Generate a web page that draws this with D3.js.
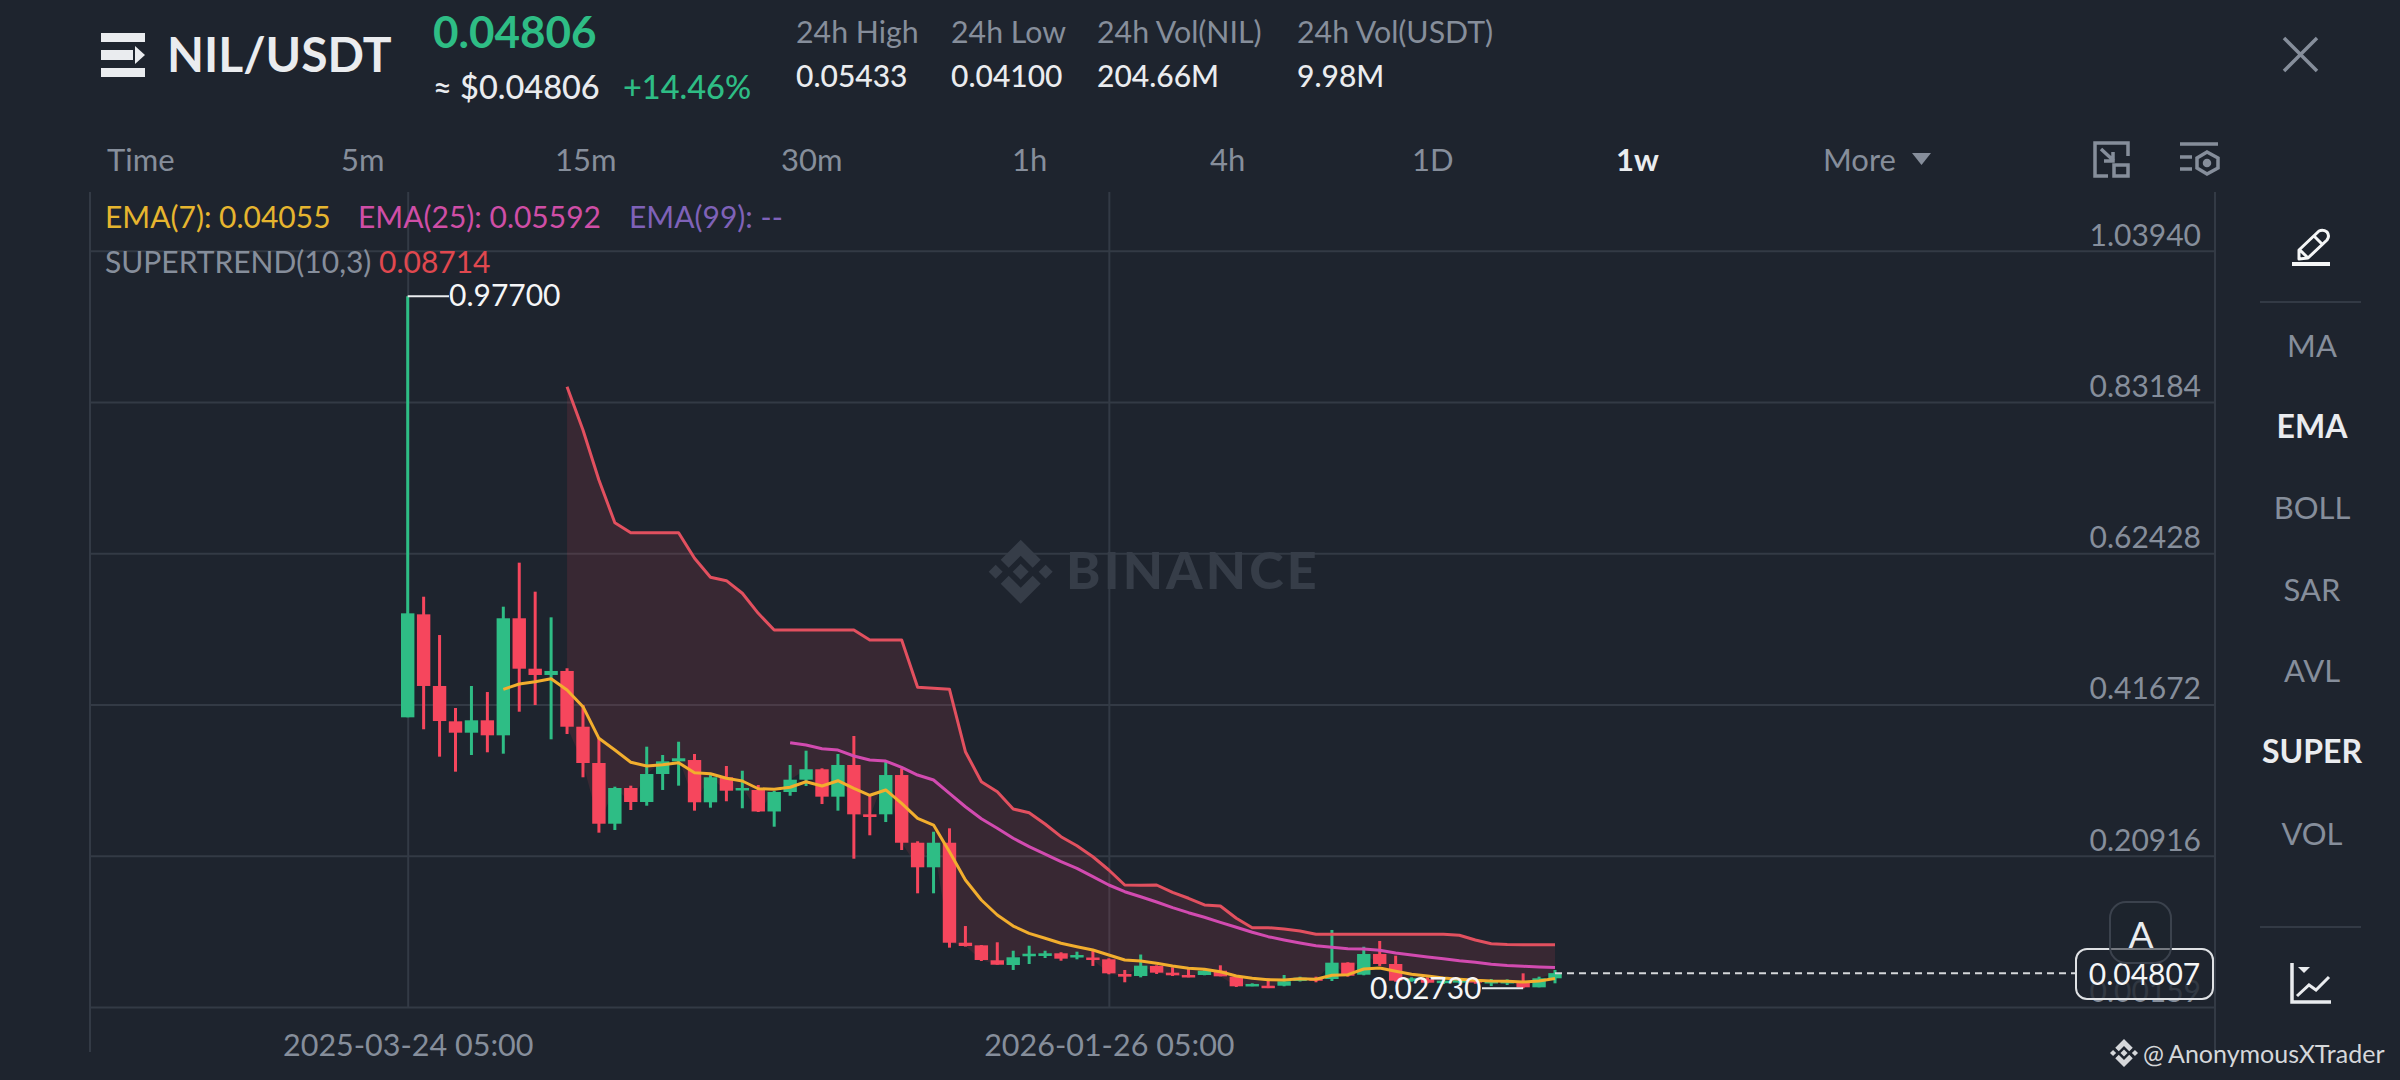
<!DOCTYPE html>
<html>
<head>
<meta charset="utf-8">
<script src="https://cdn.jsdelivr.net/npm/d3@7/dist/d3.min.js"></script>
<style>
  body { margin: 0; background: #1e242e; }
  svg { display: block; font-family: Lato, sans-serif; }
</style>
</head>
<body>
<svg id="chart" width="2400" height="1080"></svg>
<script>
var opens = [0.3991,0.5404,0.4421,0.3936,0.3780,0.3950,0.3744,0.5350,0.4658,0.4572,0.4627,0.3862,0.3364,0.2531,0.3021,0.2829,0.3213,0.3387,0.3405,0.2825,0.3168,0.2990,0.2994,0.2699,0.2966,0.3135,0.3278,0.2902,0.3337,0.2660,0.2660,0.3199,0.2270,0.1933,0.2270,0.0898,0.0862,0.0657,0.0592,0.0712,0.0716,0.0753,0.0698,0.0695,0.0670,0.0469,0.0441,0.0579,0.0487,0.0455,0.0455,0.0514,0.0432,0.0304,0.0308,0.0308,0.0373,0.0410,0.0400,0.0624,0.0459,0.0743,0.0606,0.0373,0.0396,0.0349,0.0365,0.0385,0.0341,0.0341,0.0363,0.0286,0.0410]
var highs = [0.9770,0.5646,0.5120,0.4119,0.4421,0.4338,0.5509,0.6113,0.5715,0.5363,0.4664,0.4160,0.3707,0.3039,0.3053,0.3588,0.3474,0.3656,0.3488,0.3199,0.3323,0.3258,0.3062,0.2980,0.3337,0.3533,0.3291,0.3488,0.3735,0.2925,0.3382,0.3291,0.2290,0.2421,0.2468,0.1127,0.0867,0.0904,0.0788,0.0857,0.0788,0.0767,0.0775,0.0788,0.0684,0.0524,0.0736,0.0588,0.0561,0.0547,0.0547,0.0588,0.0441,0.0341,0.0410,0.0455,0.0432,0.0432,0.1073,0.0630,0.0843,0.0922,0.0720,0.0423,0.0423,0.0410,0.0405,0.0400,0.0400,0.0395,0.0478,0.0432,0.0524]
var lows = [0.3991,0.3827,0.3451,0.3245,0.3474,0.3511,0.3492,0.4068,0.4160,0.3689,0.3762,0.3168,0.2408,0.2445,0.2719,0.2778,0.2994,0.3053,0.2710,0.2751,0.2839,0.2743,0.2692,0.2490,0.2915,0.3048,0.2801,0.2710,0.2051,0.2372,0.2554,0.2170,0.1576,0.1576,0.0830,0.0845,0.0647,0.0596,0.0524,0.0606,0.0688,0.0651,0.0670,0.0579,0.0465,0.0355,0.0423,0.0469,0.0441,0.0423,0.0451,0.0437,0.0290,0.0300,0.0275,0.0300,0.0366,0.0355,0.0373,0.0432,0.0451,0.0579,0.0363,0.0363,0.0341,0.0332,0.0340,0.0335,0.0304,0.0318,0.0273,0.0286,0.0341]
var closes = [0.5418,0.4421,0.3940,0.3780,0.3950,0.3744,0.5350,0.4658,0.4572,0.4627,0.3862,0.3364,0.2531,0.3021,0.2829,0.3213,0.3387,0.3429,0.2825,0.3168,0.2984,0.3021,0.2699,0.2966,0.3135,0.3278,0.2902,0.3337,0.2660,0.2623,0.3199,0.2270,0.1933,0.2270,0.0898,0.0853,0.0661,0.0596,0.0698,0.0747,0.0753,0.0679,0.0729,0.0661,0.0478,0.0432,0.0583,0.0487,0.0451,0.0423,0.0514,0.0437,0.0300,0.0332,0.0277,0.0369,0.0418,0.0382,0.0624,0.0445,0.0743,0.0606,0.0377,0.0410,0.0349,0.0377,0.0385,0.0355,0.0373,0.0373,0.0286,0.0410,0.04807]

var ema7Start = 6
var ema7 = [0.4375,0.4448,0.4480,0.4521,0.4366,0.4137,0.3703,0.3542,0.3374,0.3323,0.3341,0.3368,0.3231,0.3217,0.3154,0.3117,0.3011,0.3005,0.3031,0.3107,0.3048,0.3121,0.3017,0.2921,0.2994,0.2811,0.2605,0.2513,0.2147,0.1759,0.1484,0.1278,0.1127,0.1027,0.0959,0.0890,0.0843,0.0798,0.0729,0.0661,0.0647,0.0616,0.0579,0.0547,0.0533,0.0500,0.0441,0.0410,0.0391,0.0386,0.0404,0.0396,0.0451,0.0459,0.0537,0.0551,0.0506,0.0465,0.0441,0.0414,0.0396,0.0382,0.0373,0.0369,0.0359,0.0373,0.04055]

var ema25Start = 24
var ema25 = [0.3643,0.3611,0.3560,0.3542,0.3460,0.3405,0.3391,0.3305,0.3199,0.3131,0.2948,0.2764,0.2600,0.2468,0.2331,0.2216,0.2115,0.2010,0.1919,0.1804,0.1690,0.1598,0.1529,0.1457,0.1379,0.1310,0.1247,0.1178,0.1110,0.1041,0.0981,0.0935,0.0894,0.0857,0.0835,0.0816,0.0812,0.0794,0.0757,0.0729,0.0702,0.0679,0.0651,0.0629,0.0602,0.0585,0.0575,0.0565,0.05592]

var superStart = 10
var superTrend = [0.8528,0.7934,0.7247,0.6661,0.6524,0.6524,0.6524,0.6524,0.6173,0.5912,0.5866,0.5693,0.5418,0.5189,0.5189,0.5189,0.5189,0.5189,0.5189,0.5052,0.5052,0.5052,0.4403,0.4389,0.4375,0.3519,0.3107,0.2970,0.2733,0.2682,0.2527,0.2353,0.2229,0.2078,0.1896,0.1690,0.1686,0.1690,0.1590,0.1508,0.1416,0.1402,0.1233,0.1104,0.1104,0.1086,0.1059,0.1013,0.1013,0.1013,0.1013,0.1013,0.1013,0.1013,0.1013,0.1013,0.1000,0.0935,0.0885,0.0873,0.08714,0.08714,0.08714]

var yTicks = [1.0394, 0.83184, 0.62428, 0.41672, 0.20916, 0.00159]
var xTicks = [0, 44]
var xTickLabels = ['2025-03-24 05:00', '2026-01-26 05:00']
var timeframes = ['Time', '5m', '15m', '30m', '1h', '4h', '1D', '1w', 'More']
var indicators = ['MA', 'EMA', 'BOLL', 'SAR', 'AVL', 'SUPER', 'VOL']
var activeIndicators = ['EMA', 'SUPER']
var statNames = ['24h High', '24h Low', '24h Vol(NIL)', '24h Vol(USDT)']
var statValues = ['0.05433', '0.04100', '204.66M', '9.98M']
var highLabel = 0.977
var lowLabel = 0.0273
var lastPrice = 0.04807

var green = '#2ebd85', red = '#f6465d', grey = '#868e9b', white = '#eaecef', gridColor = '#333a45'
var bg = '#1e242e'

var svg = d3.select('#chart')

var x = d3.scaleLinear().domain([0, 72]).range([407.7, 1555])
var y = d3.scaleLinear().domain([0.00159, 1.0394]).range([1007, 250.7])

function label(g, txt, px, py, size, fill, weight, anchor) {
    return g.append('text')
        .attr('x', px)
        .attr('y', py)
        .attr('font-size', size)
        .attr('font-weight', weight || 400)
        .attr('fill', fill)
        .attr('text-anchor', anchor || 'start')
        .text(txt)
}

// grid + axes
function axes() {
    var yAxis = d3.axisLeft(y).tickValues(yTicks).tickSize(2125).tickFormat(d3.format('.5f'))
    var gy = svg.append('g').attr('transform', 'translate(2215,0)').call(yAxis)
    gy.select('.domain').remove()
    gy.selectAll('line').attr('stroke', gridColor).attr('stroke-width', 2)
    gy.selectAll('text')
        .attr('x', -14).attr('dy', -5.7)
        .attr('font-family', 'Lato').attr('font-size', 30)
        .attr('fill', grey).attr('text-anchor', 'end')

    var xAxis = d3.axisBottom(x).tickValues(xTicks).tickSize(-815)
        .tickFormat(function (d, i) { return xTickLabels[i] })
    var gx = svg.append('g').attr('transform', 'translate(0,1007)').call(xAxis)
    gx.select('.domain').remove()
    gx.selectAll('line').attr('stroke', gridColor).attr('stroke-width', 2)
    gx.selectAll('text')
        .attr('y', 27)
        .attr('font-family', 'Lato').attr('font-size', 30.5)
        .attr('fill', grey)

    svg.append('line').attr('x1', 90).attr('x2', 90).attr('y1', 192).attr('y2', 1052).attr('stroke', gridColor).attr('stroke-width', 2)
    svg.append('line').attr('x1', 2215).attr('x2', 2215).attr('y1', 192).attr('y2', 1052).attr('stroke', gridColor).attr('stroke-width', 2)
}

function binanceMark(g, cx, cy, s, fill) {
    // the diamond logo, s = half height
    var mk = g.append('g').attr('transform', 'translate(' + cx + ',' + cy + ') scale(' + s / 32 + ')').attr('fill', fill)
    mk.append('path').attr('d', 'M0,-32 L20,-12 L12,-4 L0,-16 L-12,-4 L-20,-12 Z')
    mk.append('path').attr('d', 'M0,32 L20,12 L12,4 L0,16 L-12,4 L-20,12 Z')
    mk.append('path').attr('d', 'M0,-8 L8,0 L0,8 L-8,0 Z')
    mk.append('path').attr('d', 'M-25,-7 L-18,0 L-25,7 L-32,0 Z')
    mk.append('path').attr('d', 'M25,-7 L32,0 L25,7 L18,0 Z')
}

function watermark() {
    binanceMark(svg, 1020.7, 571.7, 32, '#363d48')
    label(svg, 'BINANCE', 1066, 589, 52, '#363d48', 900).attr('letter-spacing', 3.2)
}

function superArea() {
    var idx = d3.range(superStart, closes.length)
    var area = d3.area()
        .x(function (i) { return x(i) })
        .y0(function (i) { return y(closes[i]) })
        .y1(function (i) { return y(superTrend[i - superStart]) })
    svg.append('path').datum(idx).attr('d', area).attr('fill', red).attr('fill-opacity', 0.12)
}

function candles() {
    var idx = d3.range(closes.length)
    var g = svg.append('g')
    g.selectAll('.wick').data(idx).enter().append('line')
        .attr('class', 'wick')
        .attr('x1', function (i) { return x(i) })
        .attr('x2', function (i) { return x(i) })
        .attr('y1', function (i) { return y(highs[i]) })
        .attr('y2', function (i) { return y(lows[i]) })
        .attr('stroke-width', 3)
        .attr('stroke', function (i) { return closes[i] >= opens[i] ? green : red })
    g.selectAll('.body').data(idx).enter().append('rect')
        .attr('class', 'body')
        .attr('x', function (i) { return x(i) - 6.7 })
        .attr('width', 13.4)
        .attr('y', function (i) { return y(Math.max(opens[i], closes[i])) })
        .attr('height', function (i) { return Math.max(2.5, Math.abs(y(opens[i]) - y(closes[i]))) })
        .attr('fill', function (i) { return closes[i] >= opens[i] ? green : red })
}

function lines() {
    function draw(values, start, color) {
        var line = d3.line()
            .x(function (d, i) { return x(i + start) })
            .y(function (d) { return y(d) })
        svg.append('path').datum(values).attr('d', line)
            .attr('fill', 'none').attr('stroke', color).attr('stroke-width', 3).attr('stroke-linejoin', 'round')
    }
    draw(superTrend, superStart, '#e2505f')
    draw(ema25, ema25Start, '#d24bb0')
    draw(ema7, ema7Start, '#f2ae2e')
}

function priceMarks() {
    // highest
    svg.append('line').attr('x1', x(0)).attr('x2', 449).attr('y1', y(highLabel)).attr('y2', y(highLabel)).attr('stroke', white).attr('stroke-width', 2)
    label(svg, d3.format('.5f')(highLabel), 449, 306, 30, '#f5f6f7')
    // lowest
    svg.append('line').attr('x1', 1482).attr('x2', x(70)).attr('y1', y(lowLabel)).attr('y2', y(lowLabel)).attr('stroke', white).attr('stroke-width', 2)
    label(svg, d3.format('.5f')(lowLabel), 1370, 999, 30, '#f5f6f7')

    // last price
    svg.append('line').attr('x1', x(72)).attr('x2', 2076).attr('y1', y(lastPrice)).attr('y2', y(lastPrice))
        .attr('stroke', '#d5d7da').attr('stroke-width', 2).attr('stroke-dasharray', '7,5')
    svg.append('rect').attr('x', 2076).attr('y', 949).attr('width', 137).attr('height', 50).attr('rx', 11)
        .attr('fill', bg).attr('fill-opacity', 0.82).attr('stroke', '#dfe1e4').attr('stroke-width', 2)
    label(svg, d3.format('.5f')(lastPrice), 2144.5, 985, 30, '#f5f6f7', 400, 'middle')

    svg.append('rect').attr('x', 2110).attr('y', 902).attr('width', 61).attr('height', 61).attr('rx', 16)
        .attr('fill', bg).attr('fill-opacity', 0.55).attr('stroke', '#3b424d').attr('stroke-width', 2)
    label(svg, 'A', 2141, 948, 37, white, 400, 'middle')
}

function header() {
    // menu logo
    var logo = svg.append('g').attr('fill', white)
    logo.append('rect').attr('x', 101).attr('y', 33).attr('width', 44).attr('height', 9)
    logo.append('rect').attr('x', 101).attr('y', 50).attr('width', 32).attr('height', 10)
    logo.append('rect').attr('x', 101).attr('y', 68).attr('width', 44).attr('height', 9)
    logo.append('path').attr('d', 'M135,46 L145,55 L135,64 Z')

    label(svg, 'NIL/USDT', 167, 72, 48, white, 700)
    label(svg, '0.04806', 433, 48, 44, green, 700)
    label(svg, '≈ $0.04806', 433, 99, 32.5, white, 500)
    label(svg, '+14.46%', 623, 99, 32.5, green, 500)

    var statX = [796, 951, 1097, 1297]
    statNames.forEach(function (s, i) {
        label(svg, s, statX[i], 43, 30.3, grey)
        label(svg, statValues[i], statX[i], 87, 30, white, 500)
    })

    var tfX = [107, 341, 555, 781, 1012, 1210, 1412, 1616, 1823]
    timeframes.forEach(function (t, i) {
        var on = t === '1w'
        label(svg, t, tfX[i], 171, 31, on ? white : grey, on ? 700 : 400)
    })
    svg.append('path').attr('d', 'M1912,153 L1931,153 L1921.5,165 Z').attr('fill', grey)

    // box icon
    var ic = svg.append('g').attr('fill', 'none').attr('stroke', grey).attr('stroke-width', 3.5)
    ic.append('path').attr('d', 'M2108,176 L2095,176 L2095,143 L2128,143 L2128,156')
    ic.append('rect').attr('x', 2114).attr('y', 165).attr('width', 14).attr('height', 11)
    ic.append('path').attr('d', 'M2101,149 L2114,161 M2113,152 L2113,161 L2104,161')
    // settings icon
    ic.append('path').attr('d', 'M2180,144 L2218,144 M2180,157 L2192,157 M2180,169 L2192,169')
    ic.append('path').attr('d', 'M2207,152 L2218,158 L2218,168 L2207,174 L2197,168 L2197,158 Z')
    ic.append('circle').attr('cx', 2207).attr('cy', 163).attr('r', 2.5).attr('fill', grey)
    // close
    svg.append('path').attr('d', 'M2284,38 L2317,71 M2317,38 L2284,71').attr('stroke', grey).attr('stroke-width', 3.5).attr('fill', 'none')
}

function legend() {
    label(svg, 'EMA(7): 0.04055', 105, 228, 30, '#e6b52f')
    label(svg, 'EMA(25): 0.05592', 358, 228, 30, '#cf4ea6')
    label(svg, 'EMA(99): --', 629, 228, 30, '#7f62b8')
    label(svg, 'SUPERTREND(10,3)', 105, 273, 30, grey)
    label(svg, '0.08714', 379, 273, 30, '#e0484f')
}

function sidebar() {
    var g = svg.append('g')
    var sideY = [357, 438, 519, 601, 682, 763, 845]
    indicators.forEach(function (t, i) {
        var on = activeIndicators.indexOf(t) >= 0
        label(g, t, 2312, sideY[i], on ? 32 : 31, on ? white : grey, on ? 700 : 400, 'middle')
    })
    g.append('line').attr('x1', 2260).attr('x2', 2361).attr('y1', 302).attr('y2', 302).attr('stroke', gridColor).attr('stroke-width', 2)
    g.append('line').attr('x1', 2260).attr('x2', 2361).attr('y1', 927).attr('y2', 927).attr('stroke', gridColor).attr('stroke-width', 2)

    // pencil
    g.append('path').attr('d', 'M2299,259 L2299,250 L2319,231 Q2323,229 2327,232 Q2330,236 2327,240 L2308,258 Z M2314,236 L2323,245 M2300,250 L2307,257')
        .attr('fill', 'none').attr('stroke', '#f5f6f7').attr('stroke-width', 3).attr('stroke-linejoin', 'round')
    g.append('rect').attr('x', 2292).attr('y', 262).attr('width', 38).attr('height', 4).attr('fill', '#f5f6f7')

    // chart icon
    g.append('path').attr('d', 'M2292,963 L2292,1002 L2331,1002').attr('fill', 'none').attr('stroke', white).attr('stroke-width', 3.5)
    g.append('path').attr('d', 'M2297,996 L2309,985 L2316,990 L2329,977').attr('fill', 'none').attr('stroke', white).attr('stroke-width', 3)
    g.append('path').attr('d', 'M2298,967 L2310,967 L2304,973 Z').attr('fill', white)

    // user watermark
    binanceMark(g, 2124, 1053, 14, '#d5d7da')
    label(g, '@', 2143, 1063, 25, '#d5d7da')
    label(g, 'AnonymousXTrader', 2168, 1063, 25, '#d5d7da')
}

axes()
watermark()
superArea()
candles()
lines()
priceMarks()
header()
legend()
sidebar()
</script>
</body>
</html>
